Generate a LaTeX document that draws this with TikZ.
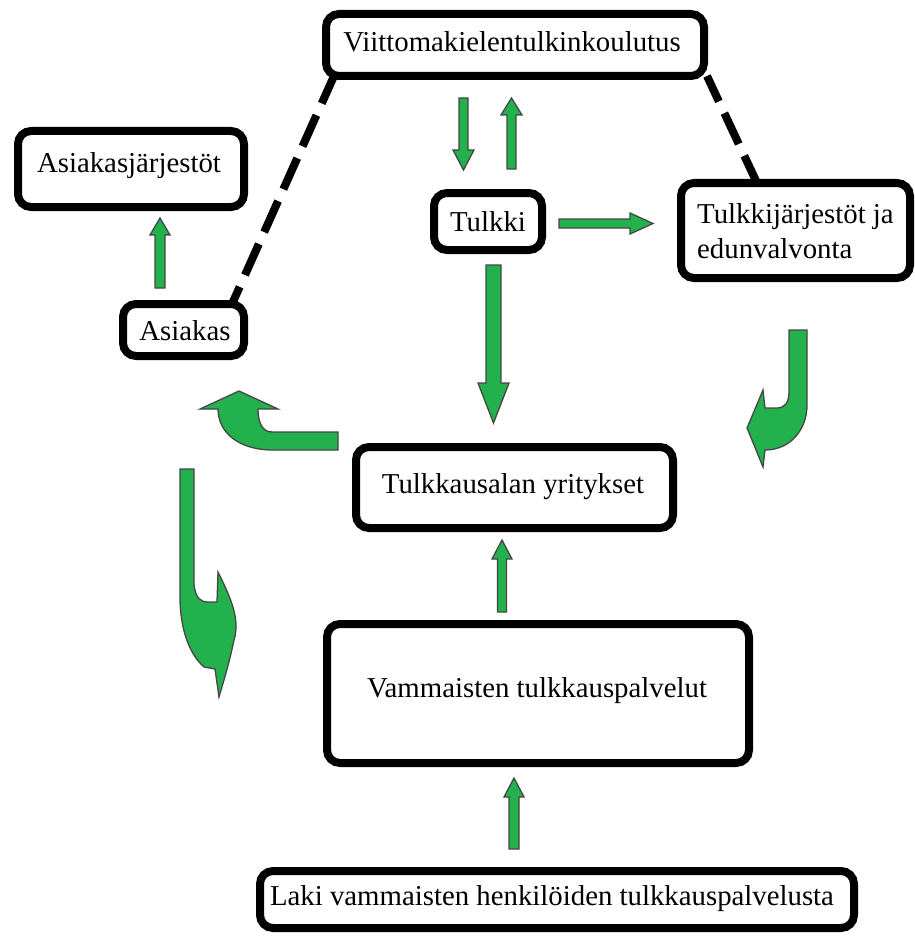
\documentclass[tikz,border=0pt]{standalone}
\usepackage{fontspec}
\setmainfont{Liberation Serif}
\definecolor{arrowgreen}{RGB}{34,177,76}
\definecolor{arrowedge}{RGB}{70,70,70}
\tikzset{
  box/.style={draw=black, line width=8pt, rounded corners=13pt, fill=white, inner sep=0pt, outer sep=0pt},
  lbl/.style={font=\fontsize{28.8}{35}\selectfont, inner sep=0pt, anchor=base},
  garrow/.style={fill=arrowgreen, draw=arrowedge, line width=1.3pt, line join=miter},
  dashline/.style={line width=8pt, dash pattern=on 34pt off 13pt, black}
}
\begin{document}
\begin{tikzpicture}[x=1pt,y=-1pt]
\fill[white] (0,0) rectangle (914,936);
\useasboundingbox (0,0) rectangle (914,936);

% boxes
\node[box, minimum width=378pt, minimum height=62pt] (bviit) at (515,45) {};
\node[box, minimum width=226pt, minimum height=76pt] (basjar) at (131,169) {};
\node[box, minimum width=108pt, minimum height=57pt] (btulkki) at (488,221.5) {};
\node[box, minimum width=229pt, minimum height=95pt] (btjar) at (795.5,230.5) {};
\node[box, minimum width=121pt, minimum height=52pt] (basiakas) at (183.5,330) {};
\node[box, minimum width=317pt, minimum height=81pt] (btyr) at (514.5,487.5) {};
\node[box, minimum width=422pt, minimum height=139pt] (bvam) at (538,693.5) {};
\node[box, minimum width=594pt, minimum height=57pt] (blaki) at (557,899.5) {};

% texts
\node[lbl] (tviit) at (512,52) {Viittomakielentulkinkoulutus};
\node[lbl] (tasjar) at (129,172) {Asiakasjärjestöt};
\node[lbl] (ttulkki) at (488,231) {Tulkki};
\node[lbl, anchor=base west] (ttjar1) at (697,223) {Tulkkijärjestöt ja};
\node[lbl, anchor=base west] (ttjar2) at (697,258) {edunvalvonta};
\node[lbl] (tasiakas) at (185,340) {Asiakas};
\node[lbl] (ttyr) at (513,493) {Tulkkausalan yritykset};
\node[lbl] (tvam) at (537,697) {Vammaisten tulkkauspalvelut};
\node[lbl] (tlaki) at (552,905) {Laki vammaisten henkilöiden tulkkauspalvelusta};

% dashed connectors
\draw[dashline, dash phase=4pt] ([xshift=8pt]bviit.south west) -- ([xshift=-12pt]basiakas.north east);
\draw[dashline, dash phase=6pt] ([xshift=3pt]bviit.south east) -- ([xshift=76pt]btjar.north west);

% straight block arrows
\draw[garrow] (459,98) -- (468,98) -- (468,150) -- (474,150) -- (463.5,170) -- (453,150) -- (459,150) -- cycle;
\draw[garrow] (507,169) -- (516,169) -- (516,115) -- (522,115) -- (511.5,98) -- (501,115) -- (507,115) -- cycle;
\draw[garrow] (559,219) -- (630,219) -- (630,213) -- (653,223.5) -- (630,234) -- (630,228) -- (559,228) -- cycle;
\draw[garrow] (486,265) -- (501,265) -- (501,383) -- (509,383) -- (493.5,423) -- (478,383) -- (486,383) -- cycle;
\draw[garrow] (155,288) -- (165,288) -- (165,235) -- (170,235) -- (160,218) -- (150,235) -- (155,235) -- cycle;
\draw[garrow] (497.5,612) -- (506.5,612) -- (506.5,559) -- (512,559) -- (502,540) -- (492,559) -- (497.5,559) -- cycle;
\draw[garrow] (509,849) -- (519,849) -- (519,797) -- (524,797) -- (514,778) -- (504,797) -- (509,797) -- cycle;

% curved block arrows
\draw[garrow] (338,432) -- (272,432) .. controls (262,432) and (258,422) .. (258,409)
  -- (278,409) -- (239,391) -- (200,409) -- (218,409)
  .. controls (218,432) and (238,450) .. (273,450) -- (338,450) -- cycle;
\draw[garrow] (180,469) -- (194,469) -- (194,585) .. controls (196,598) and (200,602) .. (208,602)
  -- (217,602) -- (218,572) .. controls (232,600) and (240,620) .. (234,640)
  .. controls (230,660) and (224,680) .. (219,697) -- (215,669) -- (204,667)
  .. controls (190,655) and (180,630) .. (180,597) -- cycle;
\draw[garrow] (789,330) -- (807,330) -- (807,405) .. controls (807,430) and (790,450) .. (765,450)
  -- (763,467) -- (747,428) -- (763,390) -- (765,408) -- (777,408)
  .. controls (785,408) and (789,402) .. (789,392) -- cycle;
\end{tikzpicture}
\end{document}
